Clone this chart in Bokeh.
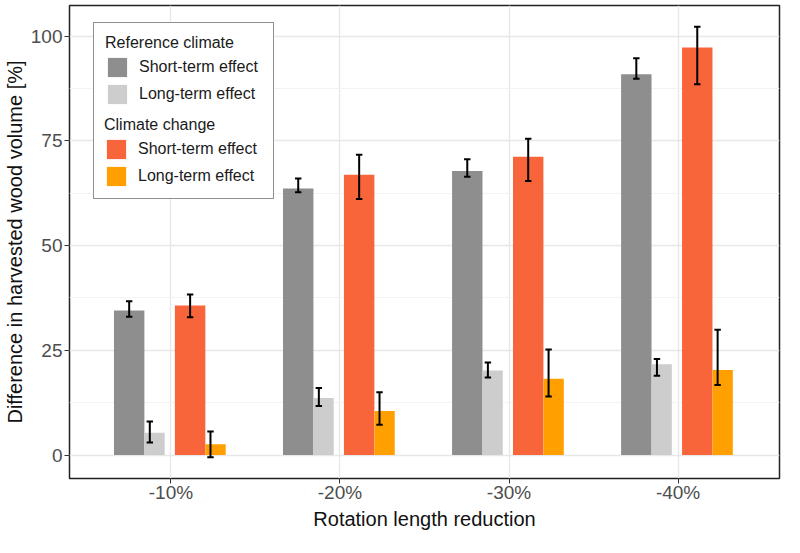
import numpy as np
from bokeh.plotting import figure
from bokeh.models import (Legend, LegendItem, FixedTicker, Range1d)
from bokeh.embed import file_html
from bokeh.resources import INLINE

# ---------------- data ----------------
categories = ["-10%", "-20%", "-30%", "-40%"]

ref_short = [34.5, 63.6, 67.8, 90.9]
ref_short_lo = [33.0, 62.7, 66.4, 89.8]
ref_short_hi = [36.7, 66.0, 70.6, 94.7]

ref_long = [5.3, 13.6, 20.2, 21.7]
ref_long_lo = [3.0, 11.7, 18.5, 18.9]
ref_long_hi = [8.0, 16.0, 22.1, 22.9]

cc_short = [35.7, 66.9, 71.2, 97.3]
cc_short_lo = [32.9, 61.1, 65.4, 88.5]
cc_short_hi = [38.3, 71.7, 75.5, 102.2]

cc_long = [2.6, 10.5, 18.2, 20.3]
cc_long_lo = [-0.5, 7.2, 14.0, 16.7]
cc_long_hi = [5.6, 15.0, 25.2, 29.9]

y_ticks = [0, 25, 50, 75, 100]
y_minor = [12.5, 37.5, 62.5, 87.5]

# ---------------- styles ----------------
FONT = "Liberation Sans"
C_DARK = "#8e8e8e"
C_LIGHT = "#cdcdcd"
C_RED = "#f9653a"
C_ORANGE = "#ffa000"
GRID = "#e8e8e8"

W_SHORT = 0.18
W_LONG = 0.12
OFF = {"rs": -0.247, "rl": -0.097, "cs": 0.1135, "cl": 0.264}
ERR_OFF = {"rs": -0.247, "rl": -0.125, "cs": 0.1135, "cl": 0.234}
CAP = 0.019

xc = np.arange(1, len(categories) + 1)

p = figure(width=784, height=536, output_backend="svg", toolbar_location=None,
           x_range=Range1d(0.4, 4.6), y_range=Range1d(-5.6, 107.3),
           min_border_left=64, min_border_right=5, min_border_top=5,
           min_border_bottom=58)
p.background_fill_color = "white"
p.border_fill_color = "white"
p.outline_line_color = "#222222"
p.outline_line_width = 1.5

# grids
p.xgrid.ticker = FixedTicker(ticks=list(xc))
p.xgrid.grid_line_color = GRID
p.xgrid.grid_line_width = 1.4
p.ygrid.ticker = FixedTicker(ticks=y_ticks, minor_ticks=y_minor)
p.ygrid.grid_line_color = GRID
p.ygrid.grid_line_width = 1.4
p.ygrid.minor_grid_line_color = "#f3f3f3"
p.ygrid.minor_grid_line_width = 1

# axes
p.xaxis.ticker = FixedTicker(ticks=list(xc))
p.xaxis.major_label_overrides = {int(i): c for i, c in zip(xc, categories)}
p.yaxis.ticker = FixedTicker(ticks=y_ticks)
for ax in (p.xaxis[0], p.yaxis[0]):
    ax.axis_line_color = None
    ax.major_tick_line_color = "#333333"
    ax.major_tick_out = 5
    ax.major_tick_in = 0
    ax.minor_tick_line_color = None
    ax.major_label_text_font = FONT
    ax.major_label_text_font_size = "19px"
    ax.major_label_text_color = "#4d4d4d"
    ax.axis_label_text_font = FONT
    ax.axis_label_text_font_size = "20px"
    ax.axis_label_text_font_style = "normal"
    ax.axis_label_text_color = "#111111"
p.xaxis.axis_label = "Rotation length reduction"
p.yaxis.axis_label = "Difference in harvested wood volume [%]"
p.yaxis.major_label_standoff = 2
p.yaxis.axis_label_standoff = 2
p.xaxis.major_label_standoff = -2
p.xaxis.axis_label_standoff = 2

# bars
r_rs = p.vbar(x=xc + OFF["rs"], top=ref_short, width=W_SHORT, bottom=0,
              fill_color=C_DARK, line_color=None)
r_rl = p.vbar(x=xc + OFF["rl"], top=ref_long, width=W_LONG, bottom=0,
              fill_color=C_LIGHT, line_color=None)
r_cs = p.vbar(x=xc + OFF["cs"], top=cc_short, width=W_SHORT, bottom=0,
              fill_color=C_RED, line_color=None)
r_cl = p.vbar(x=xc + OFF["cl"], top=cc_long, width=W_LONG, bottom=0,
              fill_color=C_ORANGE, line_color=None)

# error bars
for key, lo, hi in (("rs", ref_short_lo, ref_short_hi),
                    ("rl", ref_long_lo, ref_long_hi),
                    ("cs", cc_short_lo, cc_short_hi),
                    ("cl", cc_long_lo, cc_long_hi)):
    xe = xc + ERR_OFF[key]
    p.segment(x0=xe, y0=lo, x1=xe, y1=hi, line_color="black", line_width=2)
    p.segment(x0=xe - CAP, y0=lo, x1=xe + CAP, y1=lo, line_color="black", line_width=2)
    p.segment(x0=xe - CAP, y0=hi, x1=xe + CAP, y1=hi, line_color="black", line_width=2)

# invisible renderer used as spacer rows in the outer legend box
dummy = p.vbar(x=[], top=[], width=0.1, fill_alpha=0, line_alpha=0)

common = dict(glyph_width=24, glyph_height=24, label_height=24, spacing=3,
              label_standoff=10, label_text_font=FONT, label_text_font_size="16px",
              label_text_color="#1a1a1a", title_text_font=FONT,
              title_text_font_size="16px", title_text_font_style="normal",
              title_text_color="#1a1a1a", title_standoff=3, margin=0,
              label_width=123)

legend_a = Legend(items=[LegendItem(label="Short-term effect", renderers=[r_rs]),
                         LegendItem(label="Long-term effect", renderers=[r_rl]),
                         LegendItem(label=" ", renderers=[dummy]),
                         LegendItem(label=" ", renderers=[dummy]),
                         LegendItem(label=" ", renderers=[dummy])],
                  title="Reference climate", location=(24, 279), padding=11,
                  border_line_color="#222222", border_line_width=1.5,
                  background_fill_color="white", background_fill_alpha=1,
                  **common)
legend_b = Legend(items=[LegendItem(label="Short-term effect", renderers=[r_cs]),
                         LegendItem(label="Long-term effect", renderers=[r_cl])],
                  title="Climate change", location=(35, 290), padding=0,
                  border_line_color=None, background_fill_alpha=0,
                  **common)
p.add_layout(legend_a)
p.add_layout(legend_b)

open("out.html", "w").write(file_html(p, INLINE))
